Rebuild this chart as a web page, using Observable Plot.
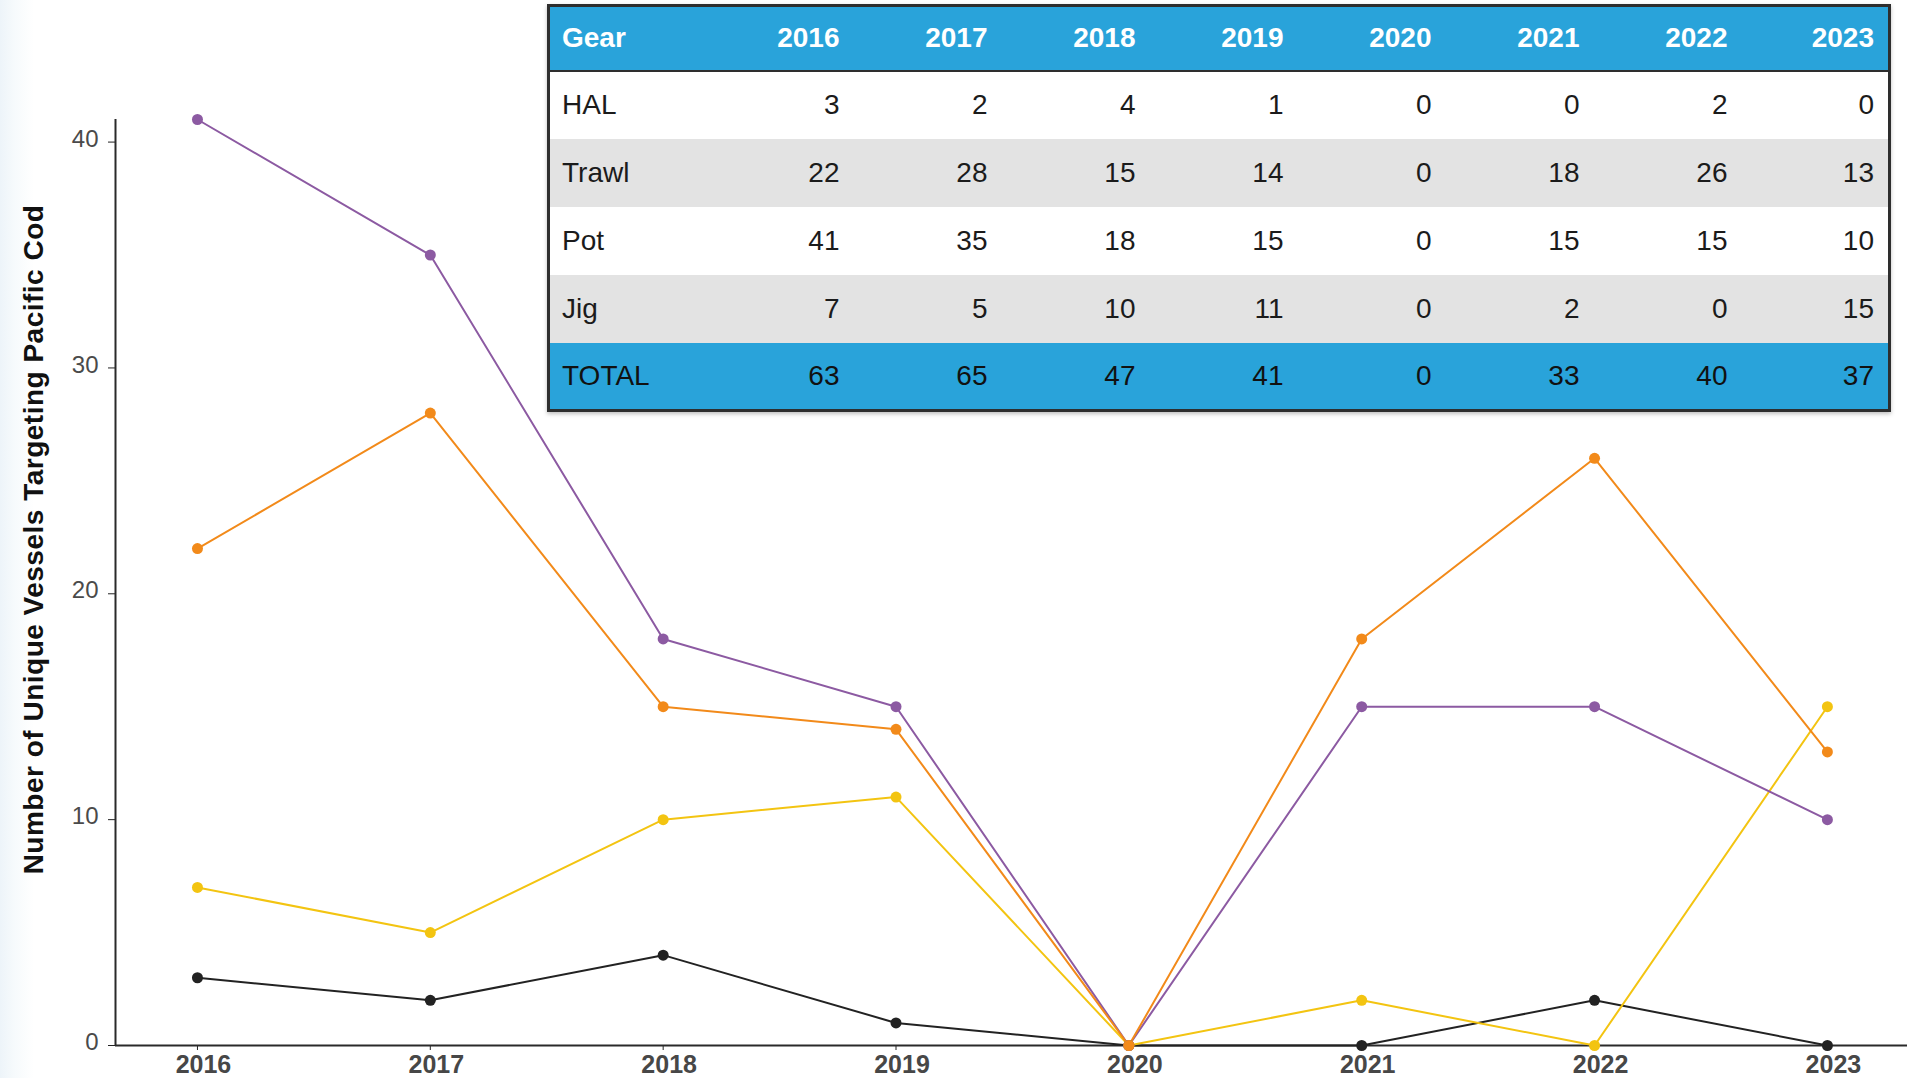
<!DOCTYPE html>
<html>
<head>
<meta charset="utf-8">
<script src="https://cdn.jsdelivr.net/npm/d3@7"></script>
<script src="https://cdn.jsdelivr.net/npm/@observablehq/plot@0.6"></script>
<style>
  html, body { margin: 0; padding: 0; background: #fff; }
  #wrap { position: relative; width: 1907px; height: 1078px; overflow: hidden;
          background: linear-gradient(to right, #edf4f9 0px, #f6fafc 14px, #ffffff 34px); }
  #chart { position: absolute; left: 0; top: 0; }
  #tbl { position: absolute; left: 547px; top: 4px; border-collapse: collapse; table-layout: fixed;
         border: 3px solid #2e2e2e; font-family: "Liberation Sans", Arial, sans-serif; font-size: 28px;
         box-shadow: 0 2px 4px rgba(0,0,0,0.25); }
  #tbl th, #tbl td { padding: 0 14px 0 12px; text-align: right; white-space: nowrap; }
  #tbl th:first-child, #tbl td:first-child { text-align: left; }
  #tbl thead tr { background: #29a3da; height: 65px; color: #fff; border-bottom: 2px solid #2e2e2e; }
  #tbl thead th { font-weight: bold; }
  #tbl tbody tr { height: 68px; color: #1b1b1b; }
  #tbl tbody tr.odd { background: #ffffff; }
  #tbl tbody tr.even { background: #e3e3e3; }
  #tbl tbody tr.total { background: #29a3da; color: #111; }
</style>
</head>
<body>
<div id="wrap">
  <div id="chart"></div>
  <table id="tbl"></table>
</div>
<script>
// ---- data ----
const years = [2016, 2017, 2018, 2019, 2020, 2021, 2022, 2023];
const gears = ["HAL", "Trawl", "Pot", "Jig"];
const hal   = [3, 2, 4, 1, 0, 0, 2, 0];
const trawl = [22, 28, 15, 14, 0, 18, 26, 13];
const pot   = [41, 35, 18, 15, 0, 15, 15, 10];
const jig   = [7, 5, 10, 11, 0, 2, 0, 15];
const totals = [63, 65, 47, 41, 0, 33, 40, 37];
const yTicks = [0, 10, 20, 30, 40];
const yLabel = "Number of Unique Vessels Targeting Pacific Cod";
const tableHeader = "Gear";
const totalLabel = "TOTAL";

const seriesValues = { HAL: hal, Trawl: trawl, Pot: pot, Jig: jig };
const colors = { HAL: "#222222", Jig: "#f3c411", Pot: "#8c5aa2", Trawl: "#f28a1a" };
const drawOrder = ["HAL", "Jig", "Pot", "Trawl"];

const rows = [];
for (const g of drawOrder) {
  years.forEach((yr, i) => rows.push({ gear: g, year: yr, value: seriesValues[g][i] }));
}

const xDomain = [2015.648, 2023.344];
const yDomain = [0, 41];

const plot = Plot.plot({
  width: 1907,
  height: 1078,
  marginLeft: 115,
  marginRight: 0,
  marginTop: 119,
  marginBottom: 33,
  style: { fontFamily: "'Liberation Sans', Arial, sans-serif", background: "transparent", overflow: "visible" },
  x: { domain: xDomain, range: [115, 1907] },
  y: { domain: yDomain },
  color: { domain: drawOrder, range: drawOrder.map(g => colors[g]) },
  marks: [
    Plot.axisX({ ticks: years, tickFormat: d => String(d), tickSize: 5, tickPadding: 5, textStroke: "none",
                 fontSize: 25, fontWeight: "bold", fill: "#474747", stroke: "#222", label: null }),
    Plot.axisY({ ticks: yTicks, tickSize: 7, text: null, stroke: "#222", label: null }),
    Plot.axisY({ ticks: yTicks, tickSize: 7, tickPadding: 10, fontSize: 24, dy: -3,
                 fill: "#4a4a4a", stroke: "none", label: null }),
    Plot.ruleY([yDomain[0]], { stroke: "#2a2a2a", strokeWidth: 2 }),
    Plot.ruleX([xDomain[0]], { y1: yDomain[0], y2: yDomain[1], stroke: "#2a2a2a", strokeWidth: 2 }),
    Plot.line(rows, { x: "year", y: "value", z: "gear", stroke: "gear", strokeWidth: 2 }),
    Plot.dot(rows, { x: "year", y: "value", fill: "gear", r: 5.5 }),
    Plot.text([yLabel], { text: d => d, frameAnchor: "left", textAnchor: "middle", rotate: -90, dx: -81, dy: -43,
                          fontSize: 28, fontWeight: "bold", fill: "#111" })
  ]
});
document.getElementById("chart").appendChild(plot);

// nudge x tick labels slightly right, as in the reference
plot.querySelectorAll('[aria-label="x-axis tick label"] text').forEach(t => t.setAttribute("dx", "6"));
// slight letter spacing on the y title
plot.querySelectorAll('[aria-label="text"] text').forEach(t => t.setAttribute("letter-spacing", "0.5"));

// ---- table ----
const tbl = document.getElementById("tbl");
const colgroup = document.createElement("colgroup");
const c0 = document.createElement("col"); c0.style.width = "157px"; colgroup.appendChild(c0);
years.forEach(() => { const c = document.createElement("col"); c.style.width = "148px"; colgroup.appendChild(c); });
tbl.appendChild(colgroup);
const thead = document.createElement("thead");
const hr = document.createElement("tr");
[tableHeader, ...years.map(String)].forEach(t => { const th = document.createElement("th"); th.textContent = t; hr.appendChild(th); });
thead.appendChild(hr);
tbl.appendChild(thead);
const tbody = document.createElement("tbody");
gears.forEach((g, i) => {
  const tr = document.createElement("tr");
  tr.className = i % 2 === 0 ? "odd" : "even";
  [g, ...seriesValues[g].map(String)].forEach(t => { const td = document.createElement("td"); td.textContent = t; tr.appendChild(td); });
  tbody.appendChild(tr);
});
const trT = document.createElement("tr");
trT.className = "total";
[totalLabel, ...totals.map(String)].forEach(t => { const td = document.createElement("td"); td.textContent = t; trT.appendChild(td); });
tbody.appendChild(trT);
tbl.appendChild(tbody);
</script>
</body>
</html>
